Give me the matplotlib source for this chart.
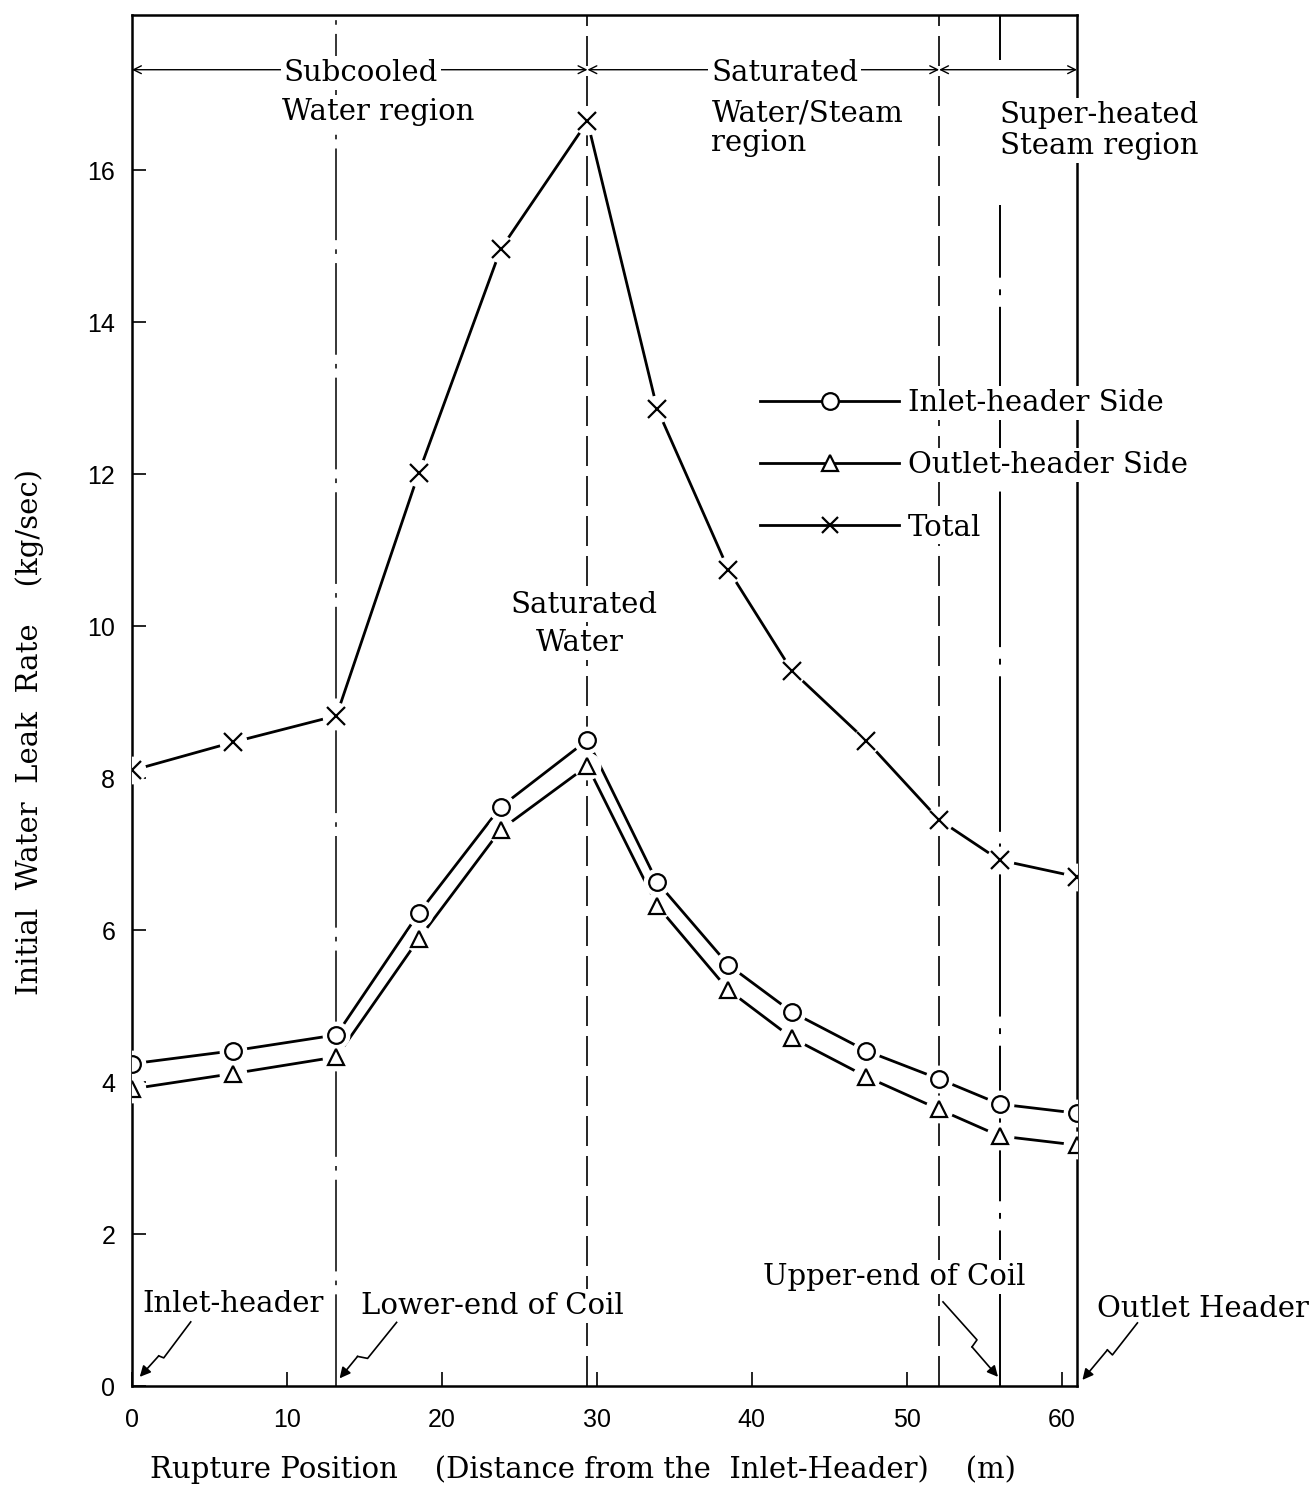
import matplotlib
matplotlib.use('Agg')
import matplotlib.pyplot as plt
from matplotlib.lines import Line2D

plt.rcParams['font.family'] = 'DejaVu Serif'

# posisi pecah pipa (m dari inlet header) dan laju bocor awal (kg/sec)
rupture_pos = [0, 6.5, 13.2, 18.5, 23.8, 29.4, 33.9, 38.5, 42.6, 47.4, 52.1, 56.0, 61.0]
inlet_side = [4.24, 4.41, 4.62, 6.22, 7.62, 8.50, 6.63, 5.54, 4.92, 4.41, 4.04, 3.71, 3.59]
outlet_side = [3.91, 4.11, 4.33, 5.88, 7.32, 8.16, 6.32, 5.21, 4.58, 4.07, 3.64, 3.29, 3.17]
total = [8.10, 8.47, 8.82, 12.01, 14.96, 16.64, 12.86, 10.74, 9.41, 8.49, 7.45, 6.92, 6.70]

series_labels = ['Inlet-header Side', 'Outlet-header Side', 'Total']
series_markers = ['o', '^', 'x']

# batas-batas daerah
lower_end_coil = 13.2
sat_water_pos = 29.4
sat_steam_pos = 52.1
upper_end_coil = 56.0
outlet_header = 61.0

xticks = [0, 10, 20, 30, 40, 50, 60]
yticks = [0, 2, 4, 6, 8, 10, 12, 14, 16]
x_max = 61.0
y_max = 18.04

W, H = 1312, 1486
fig = plt.figure(figsize=(W / 100, H / 100), dpi=100)
ax_l, ax_b, ax_w, ax_h = 132, 100, 945, 1371
ax = fig.add_axes([ax_l / W, ax_b / H, ax_w / W, ax_h / H])
ax.set_xlim(0, x_max)
ax.set_ylim(0, y_max)

# skala piksel per satuan data, dipakai untuk panah zigzag
px_x = ax_w / x_max
px_y = ax_h / y_max

# garis data (semua garis dulu, lalu celah putih, lalu marker)
for vals in [inlet_side, outlet_side, total]:
    ax.plot(rupture_pos, vals, color='black', lw=2.0, zorder=3)
for vals in [inlet_side, outlet_side, total]:
    ax.plot(rupture_pos, vals, ls='none', marker='o', ms=19, mfc='white', mec='white', zorder=4)
for vals, mk in zip([inlet_side, outlet_side, total], series_markers):
    ms = 13 if mk == 'x' else 12
    ax.plot(rupture_pos, vals, ls='none', marker=mk, ms=ms, mfc='white', mec='black', mew=1.6, zorder=5)

# garis vertikal batas daerah
ax.axvline(lower_end_coil, color='black', lw=1.1, ls=(0, (60, 6, 3, 6)), zorder=1)
ax.axvline(sat_water_pos, color='black', lw=1.2, ls=(0, (18, 6)), zorder=1)
ax.axvline(sat_steam_pos, color='black', lw=1.2, ls=(0, (18, 6)), zorder=1)
ax.vlines(upper_end_coil, 17.45, y_max, color='black', lw=1.4, zorder=1)
ax.vlines(upper_end_coil, 0, 15.54, color='black', lw=1.4, ls=(0, (80, 6, 3, 6)), zorder=1)

# panah daerah di atas
y_arrow = 17.32
arrow_kw = dict(arrowstyle='<->', lw=1.0, color='black', shrinkA=0, shrinkB=0, mutation_scale=14)
for a, b in [(0, sat_water_pos), (sat_water_pos, sat_steam_pos), (sat_steam_pos, outlet_header)]:
    ax.annotate('', xy=(a, y_arrow), xytext=(b, y_arrow), arrowprops=arrow_kw, zorder=2)

fs = 21
txt_kw = dict(fontsize=fs, color='black', zorder=6,
              bbox=dict(facecolor='white', edgecolor='none', pad=2))
ax.text(9.8, 17.28, 'Subcooled', ha='left', va='center', **txt_kw)
ax.text(9.7, 16.76, 'Water region', ha='left', va='center', **txt_kw)
ax.text(37.4, 17.28, 'Saturated', ha='left', va='center', **txt_kw)
ax.text(37.4, 16.75, 'Water/Steam', ha='left', va='center', **txt_kw)
ax.text(37.4, 16.36, 'region', ha='left', va='center', **txt_kw)
ax.text(56.0, 16.72, 'Super-heated', ha='left', va='center', clip_on=False, **txt_kw)
ax.text(56.0, 16.31, 'Steam region', ha='left', va='center', clip_on=False, **txt_kw)
ax.text(29.2, 10.28, 'Saturated', ha='center', va='center', **txt_kw)
ax.text(28.9, 9.78, 'Water', ha='center', va='center', **txt_kw)

# keterangan posisi di bawah
ax.text(0.7, 1.08, 'Inlet-header', ha='left', va='center', **txt_kw)
ax.text(14.8, 1.05, 'Lower-end of Coil', ha='left', va='center', **txt_kw)
ax.text(40.7, 1.43, 'Upper-end of Coil', ha='left', va='center', **txt_kw)
ax.text(62.3, 1.01, 'Outlet Header', ha='left', va='center', clip_on=False, **txt_kw)


def zigzag(tip, offsets):
    # offsets: titik awal, tekuk 1, tekuk 2 (piksel relatif ujung panah, y ke atas)
    pts = [(tip[0] + dx / px_x, tip[1] + dy / px_y) for dx, dy in offsets]
    ax.plot([p[0] for p in pts], [p[1] for p in pts], color='black', lw=1.2,
            clip_on=False, zorder=6)
    ax.annotate('', xy=tip, xytext=pts[-1], annotation_clip=False,
                arrowprops=dict(arrowstyle='-|>', lw=1.2, color='black',
                                shrinkA=0, shrinkB=0, mutation_scale=16), zorder=6)


zigzag((0.5, 0.12), [(51, 55), (24, 19), (19, 21)])
zigzag((lower_end_coil + 0.2, 0.10), [(57, 56), (28, 20), (18, 22)])
zigzag((upper_end_coil - 0.1, 0.12), [(-55, 75), (-21, 37), (-26, 30)])
zigzag((outlet_header + 0.35, 0.08), [(55, 57), (30, 25), (25, 30)])

# legenda manual
handles = [Line2D([], [], color='black', lw=2.0, marker=mk, ms=12, mfc='white',
                  mec='black', mew=1.6) for mk in series_markers]
leg = ax.legend(handles, series_labels, loc='upper left', bbox_to_anchor=(0.665, 0.727),
                frameon=False, fontsize=fs, handlelength=4.75, handletextpad=0.3,
                labelspacing=1.17, borderpad=0, borderaxespad=0, numpoints=1)
leg.set_zorder(7)
for t in leg.get_texts():
    t.set_bbox(dict(facecolor='white', edgecolor='none', pad=2))

ax.set_xticks(xticks)
ax.set_yticks(yticks)
ax.tick_params(direction='in', length=10, width=1.2, labelsize=18, pad=12)
ax.tick_params(axis='x', pad=16)
for lab in ax.get_xticklabels() + ax.get_yticklabels():
    lab.set_family('Liberation Sans')
for sp in ax.spines.values():
    sp.set_linewidth(1.8)

fig.text(30 / W, 1 - 732 / H, 'Initial  Water  Leak  Rate    (kg/sec)',
         rotation=90, ha='center', va='center', fontsize=fs)
fig.text(583 / W, 1 - 1470 / H,
         'Rupture Position    (Distance from the  Inlet-Header)    (m)',
         ha='center', va='center', fontsize=fs)

fig.savefig('out.png', dpi=100)
